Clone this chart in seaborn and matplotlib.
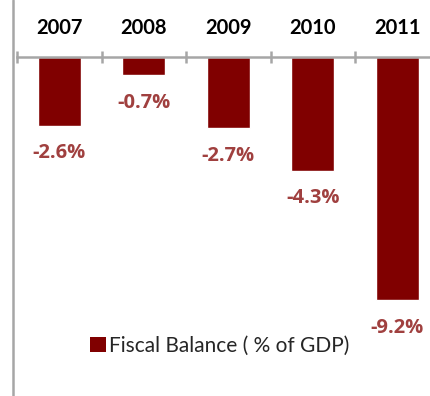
import matplotlib
matplotlib.use("Agg")
import matplotlib.pyplot as plt
from matplotlib.lines import Line2D
from matplotlib.patches import Patch
import seaborn as sns
import pandas as pd

years = ["2007", "2008", "2009", "2010", "2011"]
fiscal_balance = [-2.6, -0.7, -2.7, -4.3, -9.2]
series_name = "Fiscal Balance ( % of GDP)"

bar_color = "#800000"
label_color = "#A0403F"
axis_gray = "#A6A6A6"

sns.set_style("white")
plt.rcParams["font.family"] = ["Lato", "DejaVu Sans"]

df = pd.DataFrame({"year": years, "value": fiscal_balance})

W, H = 430, 396
fig = plt.figure(figsize=(W / 100, H / 100), dpi=100)

# axis geometry in pixels: category axis at y=57, first boundary at x=17
x0_px, step_px = 17, 84.5
axis_y_px = 57
px_per_unit = 26.4
ax = fig.add_axes([x0_px / W, 0, 5 * step_px / W, (H - axis_y_px) / H])

sns.barplot(data=df, x="year", y="value", color=bar_color, saturation=1,
            width=0.51, ax=ax)

ax.set_xlim(-0.5, 4.5)
ax.set_ylim(-(H - axis_y_px) / px_per_unit, 0)

for s in ["left", "right", "bottom"]:
    ax.spines[s].set_visible(False)
ax.spines["top"].set_color(axis_gray)
ax.spines["top"].set_linewidth(1.8)

ax.set_yticks([])
ax.set_xlabel("")
ax.set_ylabel("")
ax.xaxis.tick_top()
ax.tick_params(axis="x", which="major", length=0, pad=14, labelsize=14.5,
               labelcolor="black")
for t in ax.get_xticklabels():
    t.set_fontweight("bold")
ax.set_xticks([i + 0.5 for i in range(-1, 5)], minor=True)
ax.tick_params(axis="x", which="minor", direction="inout", length=8,
               width=1.8, color=axis_gray, top=True, bottom=False)

for i, v in enumerate(fiscal_balance):
    ax.annotate(f"{v:.1f}%", xy=(i, v), xytext=(0, -20),
                textcoords="offset points", ha="center", va="center",
                fontsize=14.5, fontweight="bold", color=label_color,
                family=["Open Sans", "DejaVu Sans"])

# plot-area border on the left
fig.add_artist(Line2D([12.5 / W, 12.5 / W], [0, 1], color=axis_gray,
                      linewidth=1.8, transform=fig.transFigure))

handle = Patch(facecolor=bar_color, edgecolor="none")
fig.legend([handle], [series_name], loc="center",
           bbox_to_anchor=(220 / W, 1 - 346 / H), frameon=False,
           fontsize=15, handlelength=0.75, handleheight=0.75,
           handletextpad=0.15, borderpad=0)

fig.savefig("out.png", dpi=100)
